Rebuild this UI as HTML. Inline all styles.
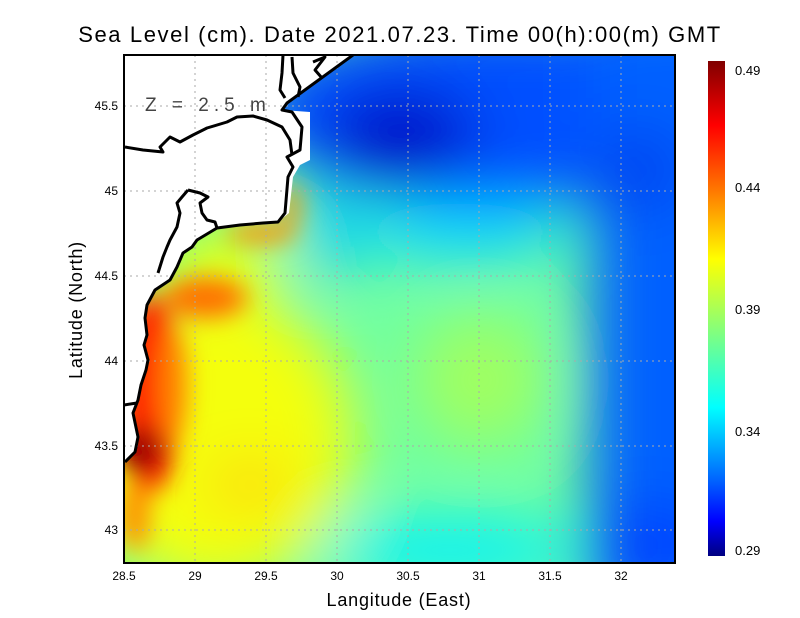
<!DOCTYPE html>
<html><head><meta charset="utf-8"><style>
html,body{margin:0;padding:0;background:#fff;}
svg{display:block;font-family:"Liberation Sans",sans-serif;}
</style></head><body>
<svg width="800" height="618" viewBox="0 0 800 618" xmlns="http://www.w3.org/2000/svg">
<defs>
<clipPath id="pc"><rect x="124" y="55" width="551" height="508"/></clipPath>
<filter id="bl" x="-50%" y="-50%" width="200%" height="200%"><feGaussianBlur stdDeviation="30"/></filter>
<filter id="bs" x="-50%" y="-50%" width="200%" height="200%"><feGaussianBlur stdDeviation="12"/></filter>
<linearGradient id="cb" x1="0" y1="0" x2="0" y2="1">
<stop offset="0" stop-color="#800000"/><stop offset="0.13" stop-color="#ff0000"/>
<stop offset="0.27" stop-color="#ff8000"/><stop offset="0.4" stop-color="#ffff00"/>
<stop offset="0.55" stop-color="#80ff80"/><stop offset="0.7" stop-color="#00ffff"/>
<stop offset="0.85" stop-color="#0060ff"/><stop offset="0.93" stop-color="#0000ff"/>
<stop offset="1" stop-color="#000080"/></linearGradient>
</defs>
<rect width="800" height="618" fill="#fff"/>
<g clip-path="url(#pc)">
<rect x="100" y="40" width="600" height="540" fill="#70ffa0"/>
<g filter="url(#bl)">
<ellipse cx="215" cy="440" rx="140" ry="150" fill="#f4ff10"/>
<ellipse cx="500" cy="110" rx="250" ry="95" fill="#0050ff"/>
<rect x="590" y="0" width="160" height="620" fill="#0060ff"/>
<ellipse cx="400" cy="135" rx="75" ry="45" fill="#0010c8"/>
<ellipse cx="640" cy="170" rx="40" ry="40" fill="#0040f0"/>
<ellipse cx="330" cy="230" rx="25" ry="50" fill="#00c8ff"/>
<ellipse cx="460" cy="232" rx="110" ry="30" fill="#10d8ff"/>
<ellipse cx="450" cy="550" rx="130" ry="30" fill="#00f0ff"/>
<ellipse cx="650" cy="545" rx="60" ry="40" fill="#0040ff"/>
<ellipse cx="480" cy="380" rx="65" ry="65" fill="#a0ff60"/>
<ellipse cx="250" cy="485" rx="45" ry="22" fill="#ffd000"/>
<ellipse cx="225" cy="262" rx="60" ry="30" fill="#f8ff00"/>
</g>
<g filter="url(#bs)">
<ellipse cx="205" cy="298" rx="42" ry="20" fill="#ff7000"/>
<ellipse cx="262" cy="233" rx="35" ry="10" fill="#ff9000"/>
<ellipse cx="292" cy="205" rx="8" ry="22" fill="#ff9000"/>
<ellipse cx="150" cy="395" rx="30" ry="100" fill="#ff2000"/>
<ellipse cx="172" cy="385" rx="15" ry="60" fill="#ff8000"/>
<ellipse cx="140" cy="450" rx="24" ry="24" fill="#a00000"/>
<ellipse cx="135" cy="515" rx="15" ry="35" fill="#ff9000"/>
</g>
<polygon fill="#fff" points="124,55 353,55 287,103 282,110 310,112 310,160 300,165 293,177 289,213 278,222 263,223 240,225 217,228 197,240 192,247 183,253 177,267 170,280 155,290 147,305 145,318 147,335 144,345 148,360 146,370 141,385 138,400 133,413 138,437 135,452 125,462 124,462"/>
<g fill="none" stroke="#aaa" stroke-width="1" stroke-dasharray="2,4">
<line x1="195" y1="55" x2="195" y2="563"/><line x1="266" y1="55" x2="266" y2="563"/><line x1="337" y1="55" x2="337" y2="563"/>
<line x1="408" y1="55" x2="408" y2="563"/><line x1="479" y1="55" x2="479" y2="563"/><line x1="550" y1="55" x2="550" y2="563"/><line x1="621" y1="55" x2="621" y2="563"/>
<line x1="124" y1="106" x2="675" y2="106"/><line x1="124" y1="191" x2="675" y2="191"/><line x1="124" y1="276" x2="675" y2="276"/>
<line x1="124" y1="361" x2="675" y2="361"/><line x1="124" y1="446" x2="675" y2="446"/><line x1="124" y1="530" x2="675" y2="530"/>
</g>
<g fill="none" stroke="#000" stroke-width="3" stroke-linejoin="round">
<polyline points="353,55 287,103 282,110 292,112 302,127 300,150 287,157 293,167 288,177 285,213 278,222 263,223 240,225 217,228 197,240 192,247 183,253 177,267 170,280 155,290 147,305 145,318 147,335 144,345 148,360 146,370 141,385 138,400 133,413 138,437 135,452 125,462"/>
<polyline points="124,405 137,403"/>
<polyline points="125,147 143,150 163,152 160,147 170,137 180,142 193,135 207,128 227,122 237,117 253,116 267,120 282,127 290,140 292,155"/>
<polyline points="188,190 182,197 177,203 180,213 177,227 170,240 167,247 163,257 158,273"/>
<polyline points="188,190 200,193 208,197 200,203 202,213 207,220 215,222 217,228"/>
<polyline points="283,55 282,73 280,90 285,98"/>
<polyline points="292,57 293,73 300,87 298,97"/>
<polyline points="313,62 325,57 315,70 322,78"/>
</g>
</g>
<rect x="124" y="55" width="551" height="508" fill="none" stroke="#000" stroke-width="2"/>
<text x="145" y="111" font-size="19" fill="#444" letter-spacing="5">Z = 2.5 m</text>
<text x="400" y="42" font-size="22" text-anchor="middle" letter-spacing="1.6">Sea Level (cm). Date 2021.07.23. Time 00(h):00(m) GMT</text>
<g font-size="12" text-anchor="middle">
<text x="124" y="580">28.5</text><text x="195" y="580">29</text><text x="266" y="580">29.5</text><text x="337" y="580">30</text>
<text x="408" y="580">30.5</text><text x="479" y="580">31</text><text x="550" y="580">31.5</text><text x="621" y="580">32</text>
</g>
<g font-size="12" text-anchor="end">
<text x="118" y="110">45.5</text><text x="118" y="195">45</text><text x="118" y="280">44.5</text>
<text x="118" y="365">44</text><text x="118" y="450">43.5</text><text x="118" y="534">43</text>
</g>
<text x="399" y="606" font-size="18" text-anchor="middle" letter-spacing="0.8">Langitude (East)</text>
<text transform="translate(82,310) rotate(-90)" font-size="18" text-anchor="middle" letter-spacing="0.8">Latitude (North)</text>
<rect x="708" y="61" width="17" height="495" fill="url(#cb)"/>
<g font-size="13">
<text x="735" y="75">0.49</text><text x="735" y="192">0.44</text><text x="735" y="314">0.39</text>
<text x="735" y="436">0.34</text><text x="735" y="555">0.29</text>
</g>
</svg>
</body></html>
